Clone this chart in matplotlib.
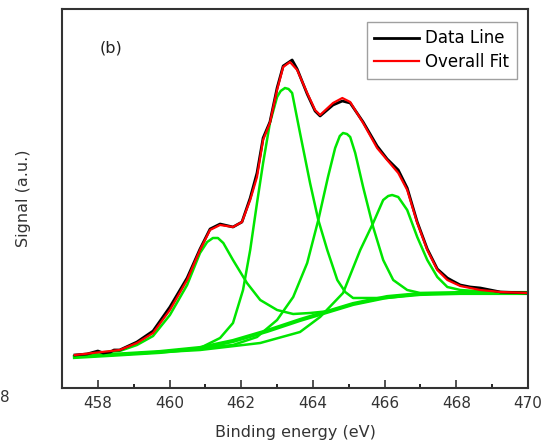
import numpy as np
import matplotlib
matplotlib.use("Agg")
import matplotlib.pyplot as plt

# binding energy (eV) / signal (a.u.)
data_x = [457.36, 457.70, 458.00, 458.15, 458.35, 458.45, 458.61, 459.09, 459.54, 460.01,
          460.49, 460.85, 461.13, 461.41, 461.77, 462.02, 462.25, 462.44, 462.61, 462.80,
          463.00, 463.17, 463.42, 463.56, 463.84, 464.06, 464.20, 464.56, 464.82, 465.04,
          465.40, 465.79, 466.07, 466.38, 466.63, 466.91, 467.19, 467.47, 467.75, 467.90,
          468.11, 468.39, 468.67, 468.95, 469.23, 470.0]
data_y = [33, 34, 37, 35, 36, 38, 38, 46, 57, 81,
          110, 139, 159, 164, 161, 166, 190, 215, 250, 266,
          300, 322, 328, 319, 294, 277, 272, 283, 287, 285,
          266, 242, 229, 218, 200, 166, 139, 119, 110, 107,
          103, 101, 100, 98, 96, 95]

fit_x = [457.36, 457.86, 458.61, 459.09, 459.54, 460.01, 460.49, 460.85, 461.13, 461.41,
         461.77, 462.02, 462.25, 462.44, 462.61, 462.80, 463.00, 463.17, 463.36, 463.56,
         463.84, 464.06, 464.20, 464.56, 464.82, 465.04, 465.40, 465.79, 466.07, 466.38,
         466.63, 466.91, 467.19, 467.47, 467.75, 468.11, 468.67, 469.23, 470.0]
fit_y = [33, 35, 38, 45, 55, 78, 108, 138, 158, 163,
         161, 166, 188, 211, 248, 265, 298, 321, 326, 318,
         295, 278, 273, 285, 290, 286, 265, 240, 228, 215,
         198, 165, 138, 118, 108, 102, 98, 96, 95]

bg_x = [457.36, 458.34, 459.73, 460.85, 461.77, 462.72, 463.64, 464.20, 465.12, 466.07, 466.99, 468.11, 470.0]
bg_y = [31, 33, 36, 40, 47, 57, 68, 74, 84, 91, 94, 95, 95]

p1_x = [457.36, 457.86, 458.61, 459.09, 459.54, 460.01, 460.49, 460.85, 461.05, 461.21,
        461.35, 461.50, 461.77, 462.16, 462.53, 463.00, 463.45, 463.92, 464.48, 465.12,
        466.07, 466.99, 468.11, 470.0]
p1_y = [31, 35, 37, 43, 52, 73, 103, 135, 146, 150,
        150, 145, 128, 105, 88, 78, 74, 75, 77, 84,
        91, 94, 95, 95]

p2_x = [457.36, 459.73, 460.85, 461.41, 461.77, 462.05, 462.25, 462.44, 462.61, 462.80,
        463.00, 463.10, 463.22, 463.32, 463.42, 463.64, 463.92, 464.15, 464.40, 464.68,
        464.90, 465.12, 466.07, 466.99, 468.11, 470.0]
p2_y = [31, 36, 40, 50, 65, 98, 138, 185, 225, 265,
        291, 297, 300, 299, 295, 255, 205, 168, 138, 108,
        96, 90, 90, 94, 95, 95]

p3_x = [457.36, 459.73, 461.77, 462.44, 463.00, 463.45, 463.84, 464.15, 464.42, 464.62,
        464.75, 464.84, 464.95, 465.04, 465.18, 465.40, 465.68, 465.96, 466.24, 466.63,
        466.99, 468.11, 470.0]
p3_y = [31, 36, 43, 51, 68, 91, 125, 168, 211, 240,
        252, 255, 254, 251, 235, 201, 161, 128, 108, 98,
        95, 95, 95]

p4_x = [457.36, 460.85, 462.53, 463.64, 464.20, 464.84, 465.32, 465.68, 465.96, 466.10,
        466.21, 466.38, 466.63, 466.91, 467.19, 467.47, 467.75, 468.11, 468.95, 470.0]
p4_y = [31, 38, 45, 56, 71, 95, 138, 165, 188, 192,
        193, 191, 178, 151, 128, 111, 101, 98, 96, 95]

fig = plt.figure(figsize=(5.45, 4.46), dpi=100)
ax = fig.add_axes([62/545, 1-388/446, (528-62)/545, (388-9)/446])

green = '#00e600'
ax.plot(bg_x, bg_y, color=green, lw=3.0)
for xs, ys in [(p1_x, p1_y), (p2_x, p2_y), (p3_x, p3_y), (p4_x, p4_y)]:
    ax.plot(xs, ys, color=green, lw=1.8)
ax.plot(data_x, data_y, color='black', lw=2.0, label='Data Line')
ax.plot(fit_x, fit_y, color='#ff0000', lw=1.6, label='Overall Fit')

ax.set_xlim(457, 470)
ax.set_ylim(0, 379)
ax.set_xticks(np.arange(458, 471, 2))
ax.set_xticks(np.arange(459, 470, 2), minor=True)
ax.set_yticks([])
ax.tick_params(axis='x', which='major', direction='in', length=6, width=1.2, labelsize=11, pad=6, colors='#333333')
ax.tick_params(axis='x', which='minor', direction='in', length=3, width=1.2)
for s in ax.spines.values():
    s.set_linewidth(1.5)
    s.set_color('#333333')

ax.set_xlabel('Binding energy (eV)', fontsize=11.5, color='#333333', labelpad=10)
ax.set_ylabel('Signal (a.u.)', fontsize=11.5, color='#333333', labelpad=22)
ax.text(0.08, 0.896, '(b)', transform=ax.transAxes, fontsize=11.5, color='#222222', va='center')

leg = ax.legend(loc='upper right', bbox_to_anchor=(0.976, 0.966), borderaxespad=0,
                fontsize=12, frameon=True, fancybox=False, handlelength=2.7,
                borderpad=0.45, labelspacing=0.35, handletextpad=0.35)
leg.get_frame().set_edgecolor('#888888')
leg.get_frame().set_linewidth(1.0)

# leftover tick label fragment at the left edge of the original image
fig.text(0.0, 1-398/446, '8', ha='left', va='center', fontsize=11, color='#333333')

fig.savefig('out.png', dpi=100)
